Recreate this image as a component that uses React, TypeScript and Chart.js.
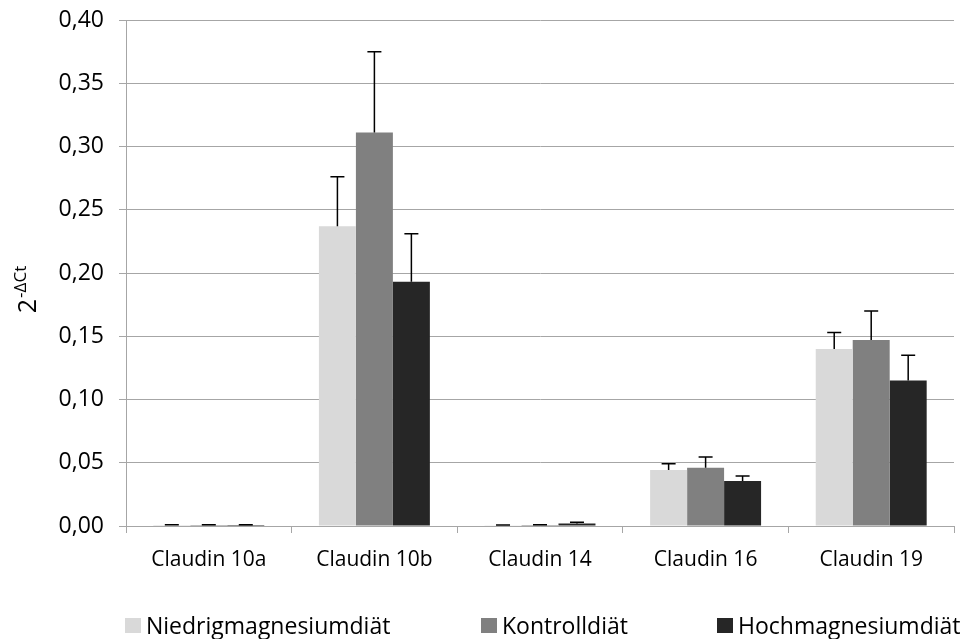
import React, { useEffect, useRef } from "react";
import { Chart, registerables } from "chart.js";

Chart.register(...registerables);

const categories = ["Claudin 10a", "Claudin 10b", "Claudin 14", "Claudin 16", "Claudin 19"];
const seriesNames = ["Niedrigmagnesiumdiät", "Kontrolldiät", "Hochmagnesiumdiät"];
const seriesColors = ["#d9d9d9", "#808080", "#262626"];
const niedrig = [0.0007, 0.237, 0.0005, 0.0443, 0.140];
const kontroll = [0.0008, 0.311, 0.0008, 0.046, 0.147];
const hoch = [0.0008, 0.193, 0.002, 0.0356, 0.115];
const niedrigErr = [0.0002, 0.039, 0.0002, 0.005, 0.013];
const kontrollErr = [0.0002, 0.064, 0.0002, 0.0085, 0.023];
const hochErr = [0.0002, 0.038, 0.001, 0.004, 0.020];
const yTicks = [0, 0.05, 0.1, 0.15, 0.2, 0.25, 0.3, 0.35, 0.4];

const FONT = "'Open Sans', 'Noto Sans', sans-serif";

const errorBarPlugin = {
  id: "errorBars",
  afterDatasetsDraw(chart: any) {
    const ctx = chart.ctx;
    const yScale = chart.scales.y;
    const errs = [niedrigErr, kontrollErr, hochErr];
    ctx.save();
    ctx.strokeStyle = "#000000";
    ctx.lineWidth = 1.5;
    chart.data.datasets.forEach((ds: any, di: number) => {
      const meta = chart.getDatasetMeta(di);
      meta.data.forEach((bar: any, i: number) => {
        const v = ds.data[i];
        const e = errs[di][i];
        const x = bar.x;
        const yTop = yScale.getPixelForValue(v + e);
        const yBase = yScale.getPixelForValue(v);
        ctx.beginPath();
        ctx.moveTo(x, yBase);
        ctx.lineTo(x, yTop);
        ctx.moveTo(x - 7, yTop);
        ctx.lineTo(x + 7, yTop);
        ctx.stroke();
      });
    });
    ctx.restore();
  },
};

const yTitlePlugin = {
  id: "yTitle",
  afterDraw(chart: any) {
    const ctx = chart.ctx;
    ctx.save();
    ctx.translate(29, 290);
    ctx.rotate(-Math.PI / 2);
    ctx.fillStyle = "#000000";
    ctx.textBaseline = "middle";
    ctx.textAlign = "left";
    const base = "2";
    const sup = "-ΔCt";
    ctx.font = `25px ${FONT}`;
    const w1 = ctx.measureText(base).width;
    ctx.font = `17px ${FONT}`;
    const w2 = ctx.measureText(sup).width;
    const start = -(w1 + w2) / 2;
    ctx.font = `25px ${FONT}`;
    ctx.fillText(base, start, 0);
    ctx.font = `17px ${FONT}`;
    ctx.fillText(sup, start + w1 + 1, -8);
    ctx.restore();
  },
};

export default function App() {
  const canvasRef = useRef<HTMLCanvasElement | null>(null);

  useEffect(() => {
    document.body.style.margin = "0";
    const canvas = canvasRef.current;
    if (!canvas) return;
    const datasets = [niedrig, kontroll, hoch].map((d, i) => ({
      label: seriesNames[i],
      data: d,
      backgroundColor: seriesColors[i],
      borderWidth: 0,
      categoryPercentage: 0.67,
      barPercentage: 1.0,
    }));
    const chart = new Chart(canvas, {
      type: "bar",
      data: { labels: categories, datasets },
      options: {
        animation: false,
        responsive: false,
        maintainAspectRatio: false,
        layout: { padding: { left: 0, right: 12, top: 20, bottom: 0 } },
        plugins: {
          legend: { display: false },
          tooltip: { enabled: false },
        },
        scales: {
          x: {
            grid: {
              offset: true,
              drawOnChartArea: false,
              color: "#a6a6a6",
              tickLength: 7,
            },
            border: { color: "#a6a6a6", width: 1 },
            ticks: {
              color: "#000000",
              font: { family: FONT, size: 21 },
              padding: 14,
            },
            afterFit(scale: any) {
              scale.height = 113;
              scale.paddingLeft = 0;
              scale.paddingRight = 0;
            },
          },
          y: {
            min: 0,
            max: 0.4,
            afterBuildTicks(scale: any) {
              scale.ticks = yTicks.map((v) => ({ value: v }));
            },
            grid: {
              color: "#a6a6a6",
              tickLength: 7,
            },
            border: { color: "#a6a6a6", width: 1 },
            ticks: {
              color: "#000000",
              font: { family: FONT, size: 23 },
              padding: 15,
              callback: (v: any) => Number(v).toFixed(2).replace(".", ","),
            },
            afterFit(scale: any) {
              scale.width = 126;
              scale.paddingTop = 0;
              scale.paddingBottom = 0;
            },
          },
        },
      },
      plugins: [errorBarPlugin, yTitlePlugin],
    });
    return () => chart.destroy();
  }, []);

  return (
    <div style={{ position: "fixed", left: 0, top: 0, width: 966, height: 639, background: "#fff" }}>
      <canvas ref={canvasRef} width={966} height={639} style={{ display: "block" }} />
      {seriesNames.map((name, i) => (
        <div
          key={name}
          style={{
            position: "absolute",
            left: [125, 481, 717][i],
            top: 625,
            transform: "translateY(-50%)",
            display: "flex",
            alignItems: "center",
            fontFamily: FONT,
            fontSize: 23,
            lineHeight: "28px",
            color: "#000",
            whiteSpace: "nowrap",
          }}
        >
          <span style={{ display: "inline-block", width: 16, height: 15, background: seriesColors[i], marginRight: 5 }} />
          <span>{name}</span>
        </div>
      ))}
    </div>
  );
}
